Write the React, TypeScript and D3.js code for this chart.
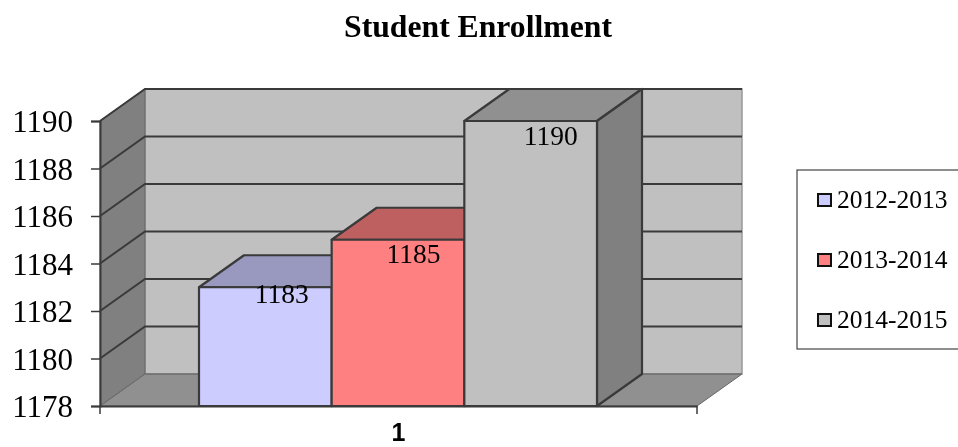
import * as d3 from "d3";
import React, { useEffect, useRef } from "react";

const seasons = ["2012-2013", "2013-2014", "2014-2015"];
const enrollment = [1183, 1185, 1190];
const frontColors = ["#ccccff", "#ff8080", "#c0c0c0"];
const topColors = ["#9999bf", "#bf6060", "#909090"];
const sideColors = ["#9999bf", "#bf6060", "#808080"];
const yTicks = [1178, 1180, 1182, 1184, 1186, 1188, 1190];
const categories = ["1"];

const width = 958;
const height = 447;
const serif = "'Liberation Serif', 'Times New Roman', serif";
const edge = "#3a3a3a";

export default function App() {
  const svgRef = useRef<SVGSVGElement>(null);

  useEffect(() => {
    if (!svgRef.current) {
      return;
    }
    const svg = d3.select(svgRef.current);
    svg.selectAll("*").remove();

    const plotLeft = 100;
    const plotRight = 697;
    const depthX = 45; // 3d offset of the back wall
    const depthY = -32;

    const y = d3.scaleLinear([1178, 1190], [406, 121]);
    const xOuter = d3.scaleBand(categories, [plotLeft, plotRight]);
    const x = d3.scaleBand(seasons, [199, 597]);
    const poly = d3.line();
    const shape = (pts: [number, number][]) => poly(pts) + "Z";
    const floorY = y(1178);
    const topY = y(1190);

    // walls and floor
    svg
      .append("path")
      .attr(
        "d",
        shape([
          [plotLeft + depthX, topY + depthY],
          [plotRight + depthX, topY + depthY],
          [plotRight + depthX, floorY + depthY],
          [plotLeft + depthX, floorY + depthY],
        ])
      )
      .attr("fill", "#c0c0c0")
      .attr("stroke", "#999")
      .attr("stroke-width", 1.5);
    svg
      .append("path")
      .attr(
        "d",
        shape([
          [plotLeft, topY],
          [plotLeft + depthX, topY + depthY],
          [plotLeft + depthX, floorY + depthY],
          [plotLeft, floorY],
        ])
      )
      .attr("fill", "#808080")
      .attr("stroke", "#666")
      .attr("stroke-width", 1);
    svg
      .append("path")
      .attr(
        "d",
        shape([
          [plotLeft, floorY],
          [plotLeft + depthX, floorY + depthY],
          [plotRight + depthX, floorY + depthY],
          [plotRight, floorY],
        ])
      )
      .attr("fill", "#909090")
      .attr("stroke", "#666")
      .attr("stroke-width", 1);

    // gridlines run along the left wall and then the back wall
    svg
      .append("g")
      .selectAll("path")
      .data(yTicks)
      .join("path")
      .attr("d", (t) =>
        poly([
          [plotLeft, y(t)],
          [plotLeft + depthX, y(t) + depthY],
          [plotRight + depthX, y(t) + depthY],
        ])
      )
      .attr("fill", "none")
      .attr("stroke", (t) => (t === 1178 ? "#707070" : edge))
      .attr("stroke-width", (t) => (t === 1178 ? 1 : 2));

    // bars, left to right so the nearer sides cover properly
    const bars = svg
      .append("g")
      .selectAll("g")
      .data(seasons)
      .join("g")
      .attr("stroke", edge)
      .attr("stroke-width", 2.2)
      .attr("stroke-linejoin", "round");
    bars
      .append("path")
      .attr("d", (d, i) => {
        const x0 = x(d) ?? 0;
        const x1 = x0 + x.bandwidth();
        const v = y(enrollment[i]);
        return shape([
          [x0, v],
          [x0 + depthX, v + depthY],
          [x1 + depthX, v + depthY],
          [x1, v],
        ]);
      })
      .attr("fill", (_, i) => topColors[i]);
    bars
      .append("path")
      .attr("d", (d, i) => {
        const x1 = (x(d) ?? 0) + x.bandwidth();
        const v = y(enrollment[i]);
        return shape([
          [x1, v],
          [x1 + depthX, v + depthY],
          [x1 + depthX, floorY + depthY],
          [x1, floorY],
        ]);
      })
      .attr("fill", (_, i) => sideColors[i]);
    bars
      .append("rect")
      .attr("x", (d) => x(d) ?? 0)
      .attr("y", (_, i) => y(enrollment[i]))
      .attr("width", x.bandwidth())
      .attr("height", (_, i) => floorY - y(enrollment[i]))
      .attr("fill", (_, i) => frontColors[i]);

    // data labels, nudged by hand off the bar tops like the original
    const labelNudgeX = [16.5, 15.5, 20];
    const labelNudgeY = [16, 23, 24];
    svg
      .append("g")
      .selectAll("text")
      .data(seasons)
      .join("text")
      .attr("x", (d, i) => (x(d) ?? 0) + x.bandwidth() / 2 + labelNudgeX[i])
      .attr("y", (_, i) => y(enrollment[i]) + labelNudgeY[i])
      .attr("text-anchor", "middle")
      .attr("font-family", serif)
      .attr("font-size", 27.5)
      .attr("fill", "#000")
      .text((_, i) => String(enrollment[i]));

    // axes
    const yAxis = d3
      .axisLeft(y)
      .tickValues(yTicks)
      .tickSize(9)
      .tickPadding(18)
      .tickFormat(d3.format("d"));
    svg
      .append("g")
      .attr("transform", `translate(${plotLeft},0)`)
      .call(yAxis)
      .call((g) => g.select(".domain").attr("stroke", edge).attr("stroke-width", 2))
      .call((g) => g.selectAll(".tick line").attr("stroke", edge).attr("stroke-width", 1.5))
      .call((g) =>
        g
          .selectAll(".tick text")
          .attr("dy", "0.35em")
          .attr("font-family", serif)
          .attr("font-size", 31)
          .attr("fill", "#000")
      );

    const xAxis = d3.axisBottom(xOuter).tickSize(0).tickPadding(17);
    svg
      .append("g")
      .attr("transform", `translate(0,${floorY})`)
      .call(xAxis)
      .call((g) => g.select(".domain").attr("stroke", edge).attr("stroke-width", 2))
      .call((g) => {
        g.selectAll(".edge-tick")
          .data([plotLeft, plotRight])
          .join("line")
          .attr("class", "edge-tick")
          .attr("x1", (d) => d)
          .attr("x2", (d) => d)
          .attr("y1", 0)
          .attr("y2", 8)
          .attr("stroke", edge)
          .attr("stroke-width", 1.5);
      })
      .call((g) =>
        g
          .selectAll(".tick text")
          .attr("font-family", "'Liberation Sans', Arial, sans-serif")
          .attr("font-weight", "bold")
          .attr("font-size", 25)
          .attr("fill", "#000")
      );

    // title
    svg
      .append("text")
      .attr("x", 478)
      .attr("y", 37)
      .attr("text-anchor", "middle")
      .attr("font-family", serif)
      .attr("font-weight", "bold")
      .attr("font-size", 31.7)
      .attr("fill", "#000")
      .text("Student Enrollment");

    // legend, its box is cut by the right edge of the picture
    svg
      .append("rect")
      .attr("x", 797)
      .attr("y", 170)
      .attr("width", 170)
      .attr("height", 179)
      .attr("fill", "#fff")
      .attr("stroke", "#444")
      .attr("stroke-width", 1.2);
    const legendY = d3.scalePoint(seasons, [200, 320]);
    const legend = svg
      .append("g")
      .selectAll("g")
      .data(seasons)
      .join("g")
      .attr("transform", (d) => `translate(0,${legendY(d)})`);
    legend
      .append("rect")
      .attr("x", 818)
      .attr("y", -6)
      .attr("width", 13)
      .attr("height", 12)
      .attr("fill", (_, i) => frontColors[i])
      .attr("stroke", "#111")
      .attr("stroke-width", 2);
    legend
      .append("text")
      .attr("x", 837)
      .attr("y", 8)
      .attr("font-family", serif)
      .attr("font-size", 25.5)
      .attr("fill", "#000")
      .text((d) => d);
  }, []);

  return (
    <svg
      ref={svgRef}
      width={width}
      height={height}
      viewBox={`0 0 ${width} ${height}`}
      style={{ position: "absolute", left: 0, top: 0, background: "#fff", filter: "blur(0.4px)" }}
    />
  );
}
